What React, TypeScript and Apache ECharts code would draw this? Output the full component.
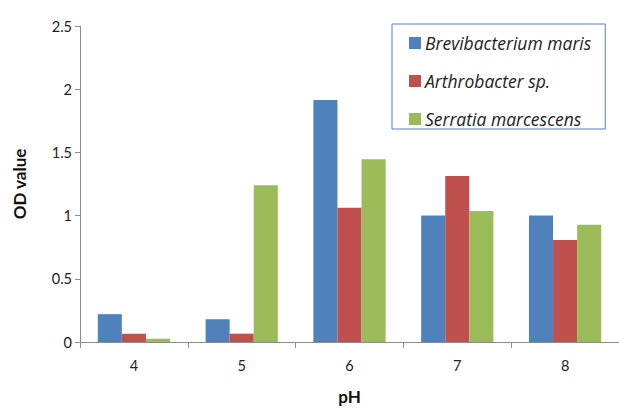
import React, { useEffect, useRef } from "react";
import * as echarts from "echarts";

const categories = ["4", "5", "6", "7", "8"];
const seriesNames = ["Brevibacterium maris", "Arthrobacter sp.", "Serratia marcescens"];
const brevibacterium = [0.22, 0.18, 1.915, 1.0, 1.0];
const arthrobacter = [0.066, 0.066, 1.063, 1.313, 0.807];
const serratia = [0.026, 1.24, 1.445, 1.036, 0.928];
const colors = ["#4F81BD", "#C0504D", "#9BBB59"];

const FONT = "Lato, 'Open Sans', sans-serif";
const LEGEND_FONT = "'Open Sans', Lato, sans-serif";

export default function App() {
  const ref = useRef<HTMLDivElement>(null);
  useEffect(() => {
    document.body.style.margin = "0";
    const chart = echarts.init(ref.current!, undefined, { renderer: "svg" });
    const values = [brevibacterium, arthrobacter, serratia];
    chart.setOption({
      animation: false,
      backgroundColor: "#ffffff",
      textStyle: { fontFamily: FONT },
      grid: { left: 80, right: -6, top: 26, bottom: 73 },
      legend: {
        orient: "vertical",
        left: 392,
        top: 24,
        itemWidth: 12,
        itemHeight: 12,
        itemGap: 20,
        padding: [10, 14, 1, 17],
        borderColor: "#4F81BD",
        borderWidth: 1,
        icon: "rect",
        data: seriesNames,
        textStyle: { fontStyle: "italic", fontSize: 17.5, color: "#222", fontFamily: LEGEND_FONT, padding: [0, 0, 0, -1] },
      },
      xAxis: {
        type: "category",
        data: categories,
        name: "pH",
        nameLocation: "middle",
        nameGap: 46,
        nameTextStyle: { fontWeight: "bold", fontSize: 17, color: "#111", fontFamily: FONT },
        axisLine: { lineStyle: { color: "#8c8c8c", width: 1 } },
        axisTick: { show: true, length: 6, lineStyle: { color: "#8c8c8c" }, alignWithLabel: false },
        axisLabel: { fontSize: 14.5, color: "#222", margin: 16 },
      },
      yAxis: {
        type: "value",
        min: 0,
        max: 2.5,
        interval: 0.5,
        name: "OD value",
        nameLocation: "middle",
        nameGap: 52,
        nameTextStyle: { fontWeight: "bold", fontSize: 17, color: "#111", fontFamily: FONT },
        axisLine: { show: true, lineStyle: { color: "#8c8c8c", width: 1 } },
        axisTick: { show: true, length: 5, lineStyle: { color: "#8c8c8c" } },
        splitLine: { show: false },
        axisLabel: { fontSize: 14.5, color: "#222", margin: 8 },
      },
      series: seriesNames.map((name, i) => ({
        name,
        type: "bar",
        data: values[i],
        barGap: "0%",
        barCategoryGap: "33%",
        itemStyle: { color: colors[i] },
      })),
    });
    return () => chart.dispose();
  }, []);
  return <div ref={ref} style={{ width: 619, height: 415, position: "fixed", left: 0, top: 0 }} />;
}
